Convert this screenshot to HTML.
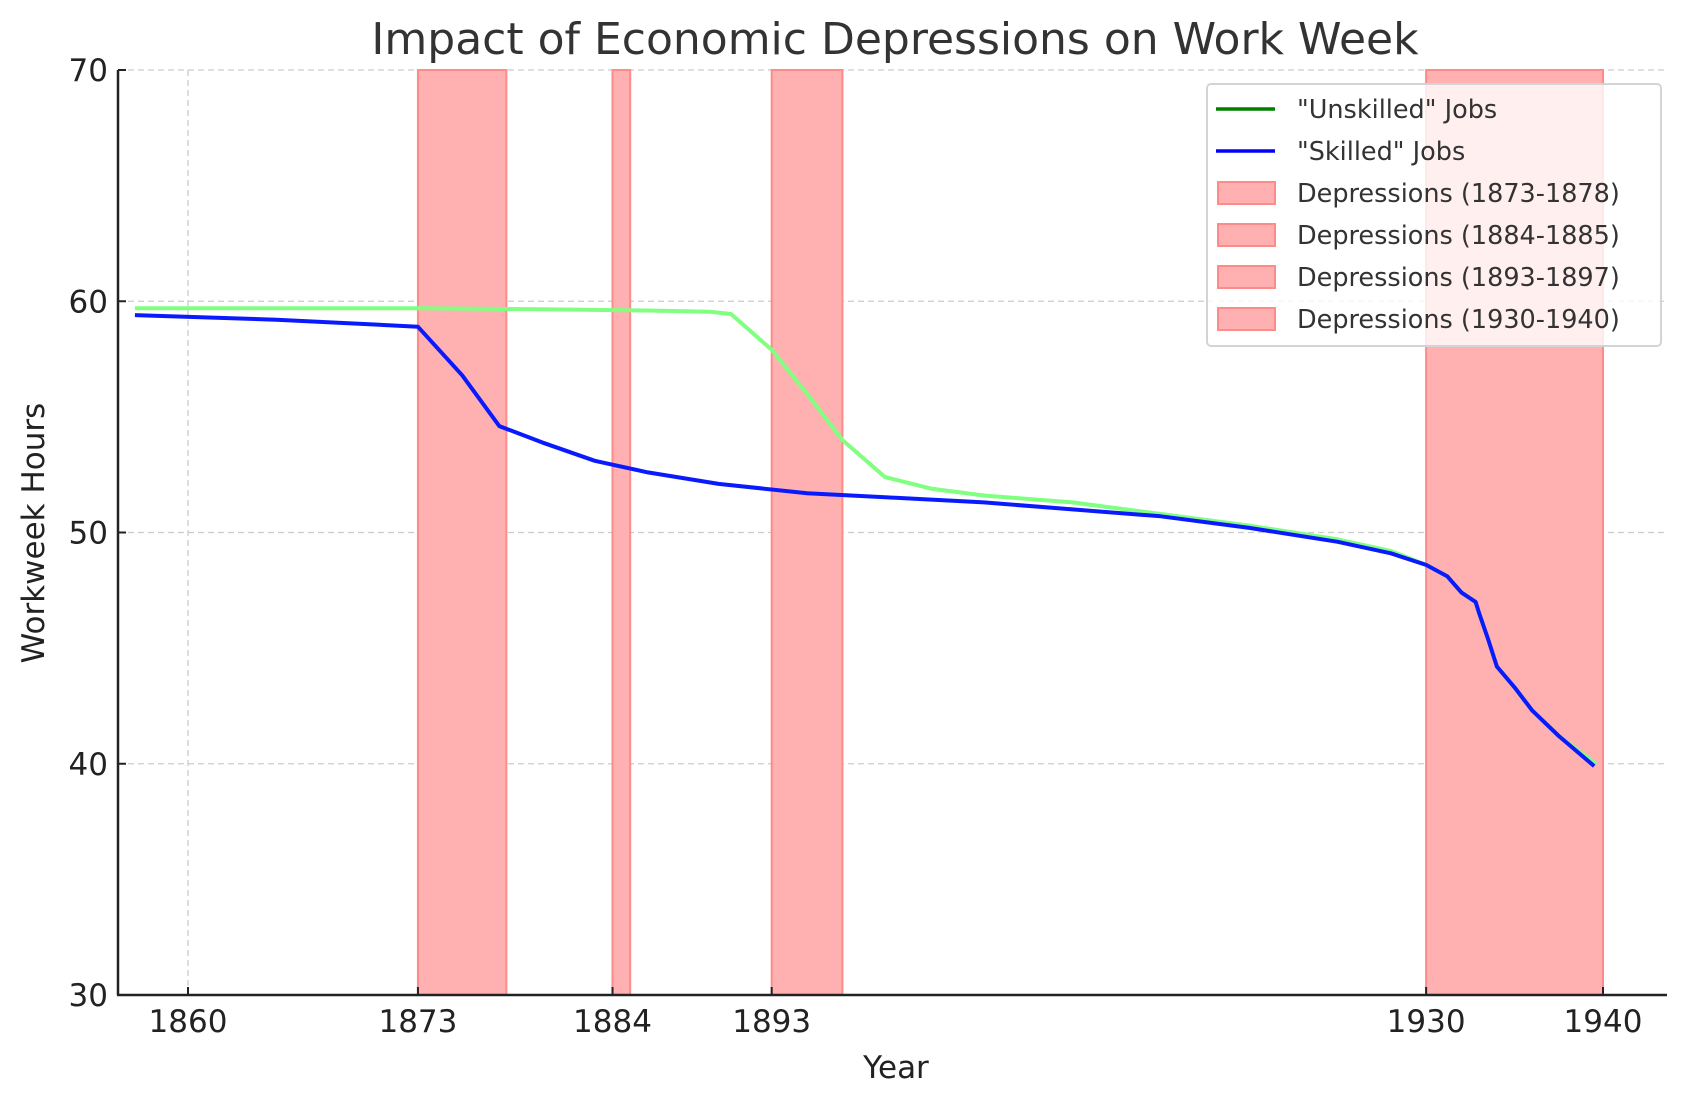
<!DOCTYPE html>
<html><head><meta charset="utf-8">
<style>
html,body{margin:0;padding:0;background:#fff;}
svg{display:block;font-family:"DejaVu Sans","Liberation Sans",sans-serif;}
</style></head>
<body>
<svg id="chart" width="1686" height="1101" viewBox="0 0 1686 1101" xmlns="http://www.w3.org/2000/svg">
<text x="895" y="54" font-size="44" fill="#333" text-anchor="middle">Impact of Economic Depressions on Work Week</text>
<g id="grid"></g>
<g id="spans"></g>
<g id="lines"></g>
<g id="axes"></g>
<text x="896" y="1078" font-size="31" fill="#222" text-anchor="middle">Year</text>
<text transform="translate(44,533) rotate(-90)" font-size="31" fill="#222" text-anchor="middle">Workweek Hours</text>
<g id="legend"></g>
</svg>
<script>
const xTicks = [1860, 1873, 1884, 1893, 1930, 1940];
const yTicks = [30, 40, 50, 60, 70];
const depressionStarts = [1873, 1884, 1893, 1930];
const depressionEnds = [1878, 1885, 1897, 1940];
const unskilledYears = [1857, 1865, 1873, 1880, 1886, 1889.5, 1890.7, 1893, 1895, 1897, 1899.4, 1902, 1905, 1910, 1915, 1920, 1925, 1928, 1930, 1931.2, 1932, 1932.8, 1933, 1933.5, 1934, 1935, 1936, 1937.5, 1939.6];
const unskilledHours = [59.7, 59.7, 59.7, 59.65, 59.6, 59.55, 59.45, 57.9, 56.0, 54.0, 52.4, 51.9, 51.6, 51.3, 50.8, 50.3, 49.7, 49.2, 48.6, 48.1, 47.4, 47.0, 46.5, 45.4, 44.2, 43.3, 42.3, 41.2, 40.0];
const skilledYears = [1857, 1865, 1873, 1875.5, 1877.6, 1880, 1883, 1886, 1890, 1895, 1900, 1905, 1910, 1915, 1920, 1925, 1928, 1930, 1931.2, 1932, 1932.8, 1933, 1933.5, 1934, 1935, 1936, 1937.5, 1939.5];
const skilledHours = [59.4, 59.2, 58.9, 56.8, 54.6, 53.9, 53.1, 52.6, 52.1, 51.7, 51.5, 51.3, 51.0, 50.7, 50.2, 49.6, 49.1, 48.6, 48.1, 47.4, 47.0, 46.5, 45.4, 44.2, 43.3, 42.3, 41.2, 39.9];
const legendLabels = ['"Unskilled" Jobs', '"Skilled" Jobs', 'Depressions (1873-1878)', 'Depressions (1884-1885)', 'Depressions (1893-1897)', 'Depressions (1930-1940)'];

const NS = 'http://www.w3.org/2000/svg';
const L = 118, R = 1667, T = 70, B = 995;
const yMin = 30, yMax = 70;
const xs = v => 188 + (v - 1860) / 80 * (1603 - 188);
const ys = v => B - (v - yMin) / (yMax - yMin) * (B - T);
function mk(tag, attrs, parent) {
  const e = document.createElementNS(NS, tag);
  for (const k in attrs) e.setAttribute(k, attrs[k]);
  parent.appendChild(e);
  return e;
}
const grid = document.getElementById('grid');
yTicks.forEach(v => {
  const g = mk('line', {x1: L, x2: R, y1: ys(v), y2: ys(v), stroke: '#cccccc', 'stroke-width': 1.3, 'stroke-dasharray': '6,4'}, grid);
  
  
});
xTicks.forEach(v => {
  const g = mk('line', {x1: xs(v), x2: xs(v), y1: T, y2: B, stroke: '#cccccc', 'stroke-width': 1.3, 'stroke-dasharray': '6,4'}, grid);
  
  
});
const spans = document.getElementById('spans');
depressionStarts.forEach((s, i) => {
  const r = mk('rect', {x: xs(s), y: T, width: xs(depressionEnds[i]) - xs(s), height: B - T, fill: '#ffb0b0', stroke: '#ff8a8a', 'stroke-width': 2}, spans);
  
  
});
const lines = document.getElementById('lines');
function path(xsArr, ysArr, color, name) {
  const d = xsArr.map((x, i) => (i ? 'L' : 'M') + xs(x).toFixed(1) + ',' + ys(ysArr[i]).toFixed(1)).join(' ');
  const p = mk('path', {d: d, fill: 'none', stroke: color, 'stroke-width': 4, 'stroke-linejoin': 'round'}, lines);
  
  
}
path(unskilledYears, unskilledHours, '#80ff80', 'unskilled-line');
path(skilledYears, skilledHours, '#0a1aff', 'skilled-line');
const axes = document.getElementById('axes');
const lx = mk('line', {x1: L, x2: L, y1: T, y2: B, stroke: '#222', 'stroke-width': 2.5}, axes);


const bx = mk('line', {x1: L - 1, x2: R, y1: B, y2: B, stroke: '#222', 'stroke-width': 2.5}, axes);


xTicks.forEach(v => {
  const t = mk('line', {x1: xs(v), x2: xs(v), y1: B, y2: B - 8, stroke: '#222', 'stroke-width': 2}, axes);
  
  
  const tx = mk('text', {x: xs(v), y: B + 37, 'font-size': 31, fill: '#222', 'text-anchor': 'middle'}, axes);
  tx.textContent = v;
  
  
});
yTicks.forEach(v => {
  const t = mk('line', {x1: L, x2: L + 8, y1: ys(v), y2: ys(v), stroke: '#222', 'stroke-width': 2}, axes);
  
  
  const tx = mk('text', {x: L - 10, y: ys(v) + 11, 'font-size': 31, fill: '#222', 'text-anchor': 'end'}, axes);
  tx.textContent = v;
  
  
});
const lg = document.getElementById('legend');
const box = mk('rect', {x: 1207, y: 84, width: 454, height: 262, rx: 4, fill: 'rgba(255,255,255,0.8)', stroke: '#d4d4d4', 'stroke-width': 2}, lg);


const colors = ['#008000', '#0000ff'];
legendLabels.forEach((lab, i) => {
  const cy = 109 + i * 42;
  if (i < 2) {
    const ln = mk('line', {x1: 1216, x2: 1275, y1: cy, y2: cy, stroke: colors[i], 'stroke-width': 3.5}, lg);
    
    
  } else {
    const rc = mk('rect', {x: 1218, y: cy - 11, width: 57, height: 22, fill: '#ffb0b0', stroke: '#ff8a8a', 'stroke-width': 2}, lg);
    
    
  }
  const tx = mk('text', {x: 1297, y: cy + 9, 'font-size': 25.5, fill: '#333'}, lg);
  tx.textContent = lab;
  
  
});
</script>
</body></html>
